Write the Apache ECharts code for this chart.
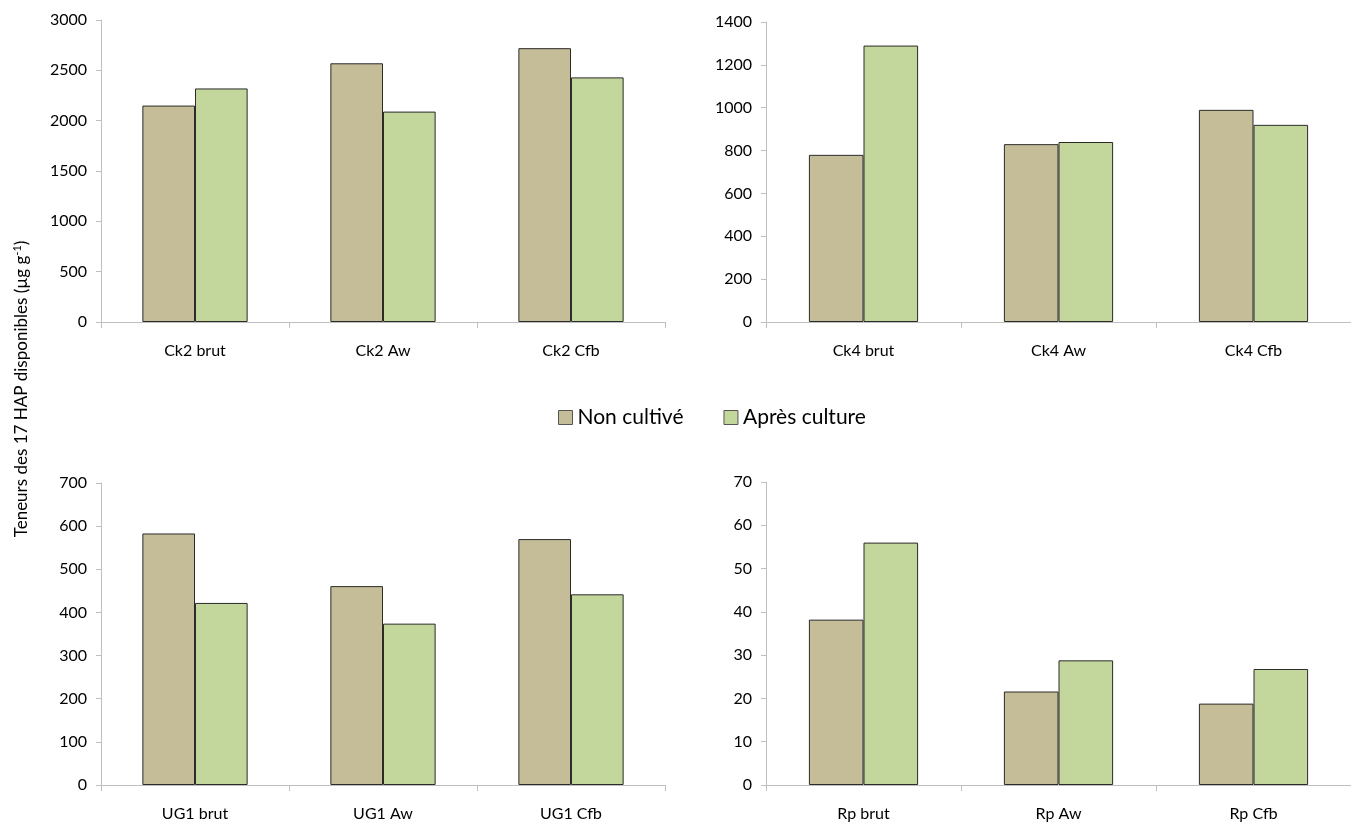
<!DOCTYPE html>
<html><head><meta charset="utf-8">
<script src="https://cdn.jsdelivr.net/npm/echarts@6/dist/echarts.min.js"></script>
<style>html,body{margin:0;padding:0;background:#fff}#c{width:1351px;height:822px}</style>
</head><body><div id="c"></div>
<script>
const seriesNames = ['Non cultivé', 'Après culture'];
const catsCk2 = ['Ck2 brut', 'Ck2 Aw', 'Ck2 Cfb'];
const nonCk2 = [2150, 2570, 2720];
const apresCk2 = [2320, 2090, 2430];
const catsCk4 = ['Ck4 brut', 'Ck4 Aw', 'Ck4 Cfb'];
const nonCk4 = [780, 830, 990];
const apresCk4 = [1290, 840, 920];
const catsUG1 = ['UG1 brut', 'UG1 Aw', 'UG1 Cfb'];
const nonUG1 = [583, 461, 570];
const apresUG1 = [422, 374, 442];
const catsRp = ['Rp brut', 'Rp Aw', 'Rp Cfb'];
const nonRp = [38.2, 21.6, 18.8];
const apresRp = [56, 28.8, 26.8];
const yMax = [3000, 1400, 700, 70];
const yStep = [500, 200, 100, 10];

const FONT = 'Lato';
const colors = ['#C4BD97', '#C3D69B'];
const grids = [
  {left: 101, top: 20, width: 564, height: 302},
  {left: 766, top: 22, width: 585, height: 300},
  {left: 101, top: 483, width: 564, height: 306},
  {left: 766, top: 482, width: 585, height: 305}
];
const cats = [catsCk2, catsCk4, catsUG1, catsRp];
const nons = [nonCk2, nonCk4, nonUG1, nonRp];
const apres = [apresCk2, apresCk4, apresUG1, apresRp];

const xAxis = [], yAxis = [], series = [];
for (let i = 0; i < 4; i++) {
  xAxis.push({
    type: 'category', gridIndex: i, data: cats[i],
    axisLine: {lineStyle: {color: '#BFBFBF', width: 1}},
    axisTick: {show: true, length: 6, lineStyle: {color: '#BFBFBF'}},
    axisLabel: {color: '#000', fontFamily: FONT, fontSize: 16, margin: 21}
  });
  yAxis.push({
    type: 'value', gridIndex: i, min: 0, max: yMax[i], interval: yStep[i],
    axisLine: {show: true, lineStyle: {color: '#BFBFBF', width: 1}},
    axisTick: {show: true, length: 5, lineStyle: {color: '#BFBFBF'}},
    splitLine: {show: false},
    axisLabel: {color: '#000', fontFamily: FONT, fontSize: 16, margin: 14,
      formatter: v => String(v)}
  });
  [nons[i], apres[i]].forEach((d, k) => {
    series.push({
      type: 'bar', name: seriesNames[k], xAxisIndex: i, yAxisIndex: i, data: d,
      barGap: '0%', barCategoryGap: '44%',
      itemStyle: {color: colors[k], borderColor: '#2b2b2b', borderWidth: 1},
      emphasis: {disabled: true}
    });
  });
}

const chart = echarts.init(document.getElementById('c'), null, {renderer: 'canvas'});
chart.setOption({
  animation: false,
  backgroundColor: '#fff',
  grid: grids,
  xAxis, yAxis, series,
  legend: {
    data: seriesNames, left: 553, top: 402, padding: 5,
    itemWidth: 14, itemHeight: 14, itemGap: 40,
    icon: 'rect',
    textStyle: {fontFamily: FONT, fontSize: 21, color: '#000'},
    itemStyle: {borderColor: '#555', borderWidth: 1}
  },
  graphic: [{
    type: 'text', x: 22, y: 389, rotation: Math.PI / 2, originX: 0, originY: 0,
    style: {
      text: 'Teneurs des 17 HAP disponibles (µg g{s|-1})',
      fontFamily: FONT, fontSize: 17, fill: '#000',
      align: 'center', verticalAlign: 'middle',
      rich: {s: {fontFamily: FONT, fontSize: 11, fill: '#000', padding: [0, 0, 9, 0]}}
    }
  }]
});
</script></body></html>
